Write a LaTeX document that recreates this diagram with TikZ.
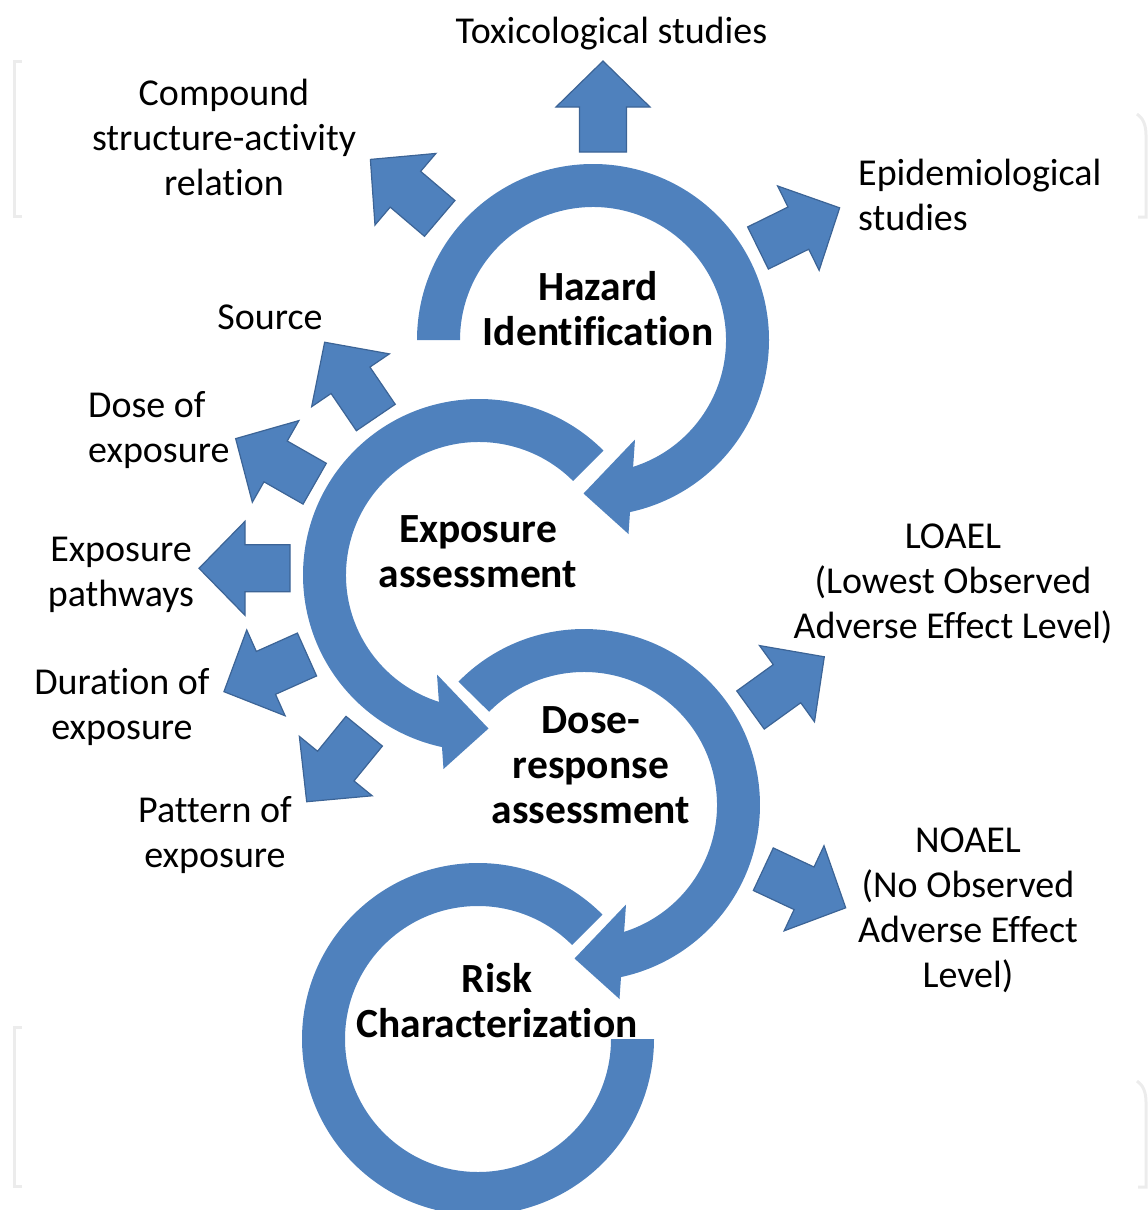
\documentclass[tikz,border=0pt]{standalone}
\usepackage{fontspec}
\setmainfont[Ligatures={NoCommon}]{Carlito}
\definecolor{ringblue}{HTML}{4F81BD}
\definecolor{edgeblue}{HTML}{3C6496}
\definecolor{faintgray}{HTML}{ECECEC}
\newcommand\blockarrow[3]{%
  \begin{scope}[shift={(#1,-#2)}, rotate=#3]
    \filldraw[blk] (0,-23.5) -- (45,-23.5) -- (45,-47) -- (91,0) -- (45,47) -- (45,23.5) -- (0,23.5) -- cycle;
  \end{scope}}
\begin{document}
\begin{tikzpicture}[x=1pt,y=1pt,
  ring/.style={fill=ringblue},
  blk/.style={fill=ringblue, draw=edgeblue, line width=1.2pt, line join=miter},
  lab/.style={font=\fontsize{38}{45}\selectfont, align=center, inner sep=0pt},
  big/.style={font=\fontsize{41.5}{45}\selectfont\bfseries, align=center, inner sep=0pt},
  faint/.style={draw=faintgray, line width=3pt}]
\useasboundingbox (0,0) rectangle (1148,-1210);
\clip (0,0) rectangle (1148,-1210);

% faint brackets
\draw[faint] (22,-61) -- (14,-61) -- (14,-216) -- (22,-216);
\draw[faint] (1137,-114) .. controls (1143,-118) and (1146,-125) .. (1146,-135) -- (1146,-217) -- (1138,-217);
\draw[faint] (22,-1027) -- (14,-1027) -- (14,-1186) -- (22,-1186);
\draw[faint] (1137,-1081) .. controls (1143,-1085) and (1146,-1092) .. (1146,-1102) -- (1146,-1187) -- (1138,-1187);

% ring 1: Hazard identification
\begin{scope}[shift={(593,-340)}]
  \fill[ring] (180:176) arc[start angle=180,end angle=-78.5,radius=176] -- (-78.5:133) arc[start angle=-78.5,end angle=180,radius=133] -- cycle;
  \fill[ring] (42,-99.5) -- (-9.5,-153.5) -- (35.5,-194) -- cycle;
\end{scope}
% ring 2: Exposure assessment
\begin{scope}[shift={(479,-575)}]
  \fill[ring] (45:176) arc[start angle=45,end angle=258.5,radius=176] -- (258.5:133) arc[start angle=258.5,end angle=45,radius=133] -- cycle;
  \fill[ring] (-42,-99.5) -- (9.5,-153.5) -- (-35.5,-194) -- cycle;
\end{scope}
% ring 3: Dose-response assessment
\begin{scope}[shift={(584,-805)}]
  \fill[ring] (135.5:176) arc[start angle=135.5,end angle=-78.5,radius=176] -- (-78.5:133) arc[start angle=-78.5,end angle=135.5,radius=133] -- cycle;
  \fill[ring] (42,-99.5) -- (-9.5,-153.5) -- (35.5,-194) -- cycle;
\end{scope}
% ring 4: Risk characterization
\begin{scope}[shift={(478,-1039)}]
  \fill[ring] (45:176) arc[start angle=45,end angle=360,radius=176] -- (360:133) arc[start angle=360,end angle=45,radius=133] -- cycle;
\end{scope}

% small block arrows
\blockarrow{603}{152}{90}
\blockarrow{439.7}{218.4}{139.6}
\blockarrow{758}{248}{26.2}
\blockarrow{375.8}{417.5}{124.2}
\blockarrow{314.7}{483.7}{150.3}
\blockarrow{290}{568.3}{180}
\blockarrow{307}{654.5}{204.1}
\blockarrow{364.2}{731.2}{230.8}
\blockarrow{750.5}{710}{35.8}
\blockarrow{763.3}{869.2}{-25.1}

% labels
\node[lab] (tox) at (611.5,-34) {Toxicological studies};
\node[lab] (comp) at (224,-137) {Compound\\structure-activity\\relation};
\node[lab, align=left, anchor=west] (epi) at (858,-195) {Epidemiological\\studies};
\node[lab] (src) at (270,-317) {Source};
\node[lab, align=left, anchor=west] (dose) at (88,-430) {Dose of\\exposure};
\node[lab] (path) at (121,-574.5) {Exposure\\pathways};
\node[lab] (dur) at (122,-707) {Duration of\\exposure};
\node[lab] (pat) at (215,-835) {Pattern of\\exposure};
\node[lab] (loael) at (953,-584) {LOAEL\\(Lowest Observed\\Adverse Effect Level)};
\node[lab] (noael) at (968,-910) {NOAEL\\(No Observed\\Adverse Effect\\Level)};

\node[big] (haz) at (598,-309) {Hazard\\Identification};
\node[big] (expo) at (478,-552) {Exposure\\assessment};
\node[big] (dr) at (591,-765) {Dose-\\response\\assessment};
\node[big] (risk) at (497,-1000.5) {Risk\\Characterization};
\end{tikzpicture}
\end{document}
